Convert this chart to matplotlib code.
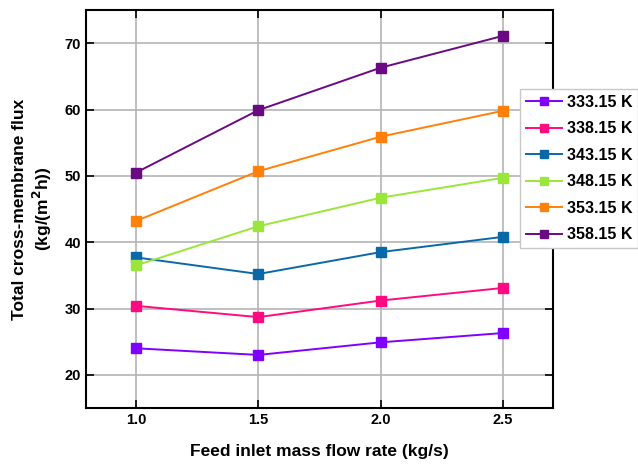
import matplotlib.pyplot as plt

plt.rcParams['font.family'] = ['Liberation Sans', 'DejaVu Sans']

flow = [1.0, 1.5, 2.0, 2.5]
temps = ['333.15 K', '338.15 K', '343.15 K', '348.15 K', '353.15 K', '358.15 K']
flux_333 = [24.0, 23.0, 24.9, 26.3]
flux_338 = [30.4, 28.7, 31.2, 33.1]
flux_343 = [37.7, 35.2, 38.5, 40.8]
flux_348 = [36.5, 42.4, 46.7, 49.7]
flux_353 = [43.2, 50.7, 55.9, 59.8]
flux_358 = [50.5, 59.9, 66.3, 71.1]
colors = ['#8000ff', '#ff0a80', '#0a68a8', '#9be63a', '#ff800a', '#6a0a82']

fig = plt.figure(figsize=(6.38, 4.68), dpi=100)
ax = fig.add_axes([86/638, 1-408/468, (553-86)/638, (408-10)/468])

series = [flux_333, flux_338, flux_343, flux_348, flux_353, flux_358]
for vals, lab, c in zip(series, temps, colors):
    ax.plot(flow, vals, color=c, lw=1.4, marker='s', ms=7, label=lab, zorder=3)

ax.set_xlim(0.795, 2.705)
ax.set_ylim(15, 75)
ax.set_xticks([1.0, 1.5, 2.0, 2.5])
ax.set_xticklabels(['1.0', '1.5', '2.0', '2.5'])
ax.set_yticks([20, 30, 40, 50, 60, 70])
ax.grid(True, color='#b4b4b4', lw=1.2)
ax.set_axisbelow(True)
ax.tick_params(direction='in', top=True, right=True, length=6, width=1.2, labelsize=10.5)
for t in ax.get_xticklabels() + ax.get_yticklabels():
    t.set_fontweight('bold')
for s in ax.spines.values():
    s.set_linewidth(1.5)

ax.set_xlabel('Feed inlet mass flow rate (kg/s)', fontsize=12.5, fontweight='bold', labelpad=12)
ax.set_ylabel('Total cross-membrane flux\n(kg/(m$\\mathbf{^2}$h))', fontsize=12.5,
              fontweight='bold', labelpad=8, linespacing=1.2)

leg = fig.legend(loc='upper left', bbox_to_anchor=(520/638, 1-89/468), fontsize=11.5,
                 frameon=True, fancybox=False, edgecolor='#c8c8c8', framealpha=1,
                 handlelength=2.3, borderpad=0.35, labelspacing=0.72, handletextpad=0.3,
                 borderaxespad=0, markerscale=0.85)
for t in leg.get_texts():
    t.set_fontweight('bold')

fig.savefig('out.png', dpi=100)
